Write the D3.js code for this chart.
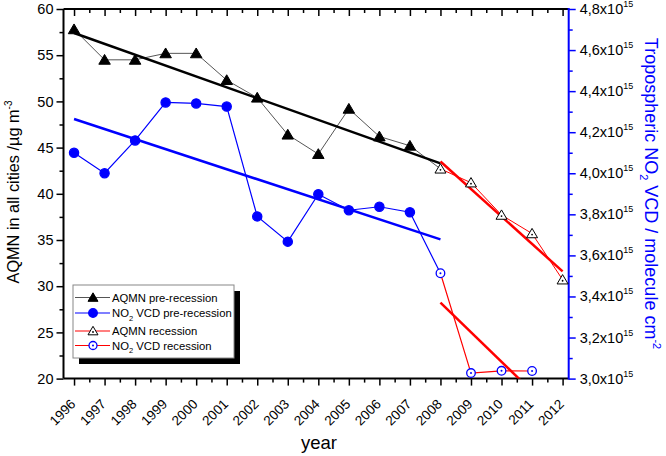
<!DOCTYPE html>
<html>
<head>
<meta charset="utf-8">
<script src="https://cdn.jsdelivr.net/npm/d3@7"></script>
<style>
  html, body { margin: 0; padding: 0; background: #fff; }
  svg { display: block; }
  svg text { font-family: "Liberation Sans", Arial, sans-serif; }
</style>
</head>
<body>
<svg id="chart" width="666" height="456"></svg>
<script>
// ---------- data ----------
const years = [1996,1997,1998,1999,2000,2001,2002,2003,2004,2005,2006,2007,2008,2009,2010,2011,2012];
const aqmnPreYears = [1996,1997,1998,1999,2000,2001,2002,2003,2004,2005,2006,2007,2008];
const aqmnPre = [57.8,54.5,54.5,55.2,55.2,52.3,50.4,46.4,44.3,49.2,46.2,45.2,42.7];
const aqmnRecYears = [2008,2009,2010,2011,2012];
const aqmnRec = [42.7,41.2,37.7,35.7,30.7];
const no2PreYears = [1996,1997,1998,1999,2000,2001,2002,2003,2004,2005,2006,2007,2008];
const no2Pre = [4.10e15,4.00e15,4.16e15,4.345e15,4.34e15,4.325e15,3.79e15,3.667e15,3.898e15,3.82e15,3.837e15,3.81e15,3.513e15];
const no2RecYears = [2008,2009,2010,2011];
const no2Rec = [3.513e15,3.027e15,3.038e15,3.037e15];
// trend lines [year, value]
const aqmnPreTrend = [[1996,57.4],[2008,43.3]];
const aqmnRecTrend = [[2008,43.5],[2012,31.6]];
const no2PreTrend = [[1996,4.264e15],[2008,3.678e15]];
const no2RecTrend = [[2008,3.37e15],[2011,2.938e15]];
const leftTicks = [20,25,30,35,40,45,50,55,60];
const rightTicks = [3.0e15,3.2e15,3.4e15,3.6e15,3.8e15,4.0e15,4.2e15,4.4e15,4.6e15,4.8e15];
const legendItems = [
  {name:"AQMN pre-recession", sub:null, line:"#555555", marker:"tri", fill:"#000000", stroke:"#000000", open:false},
  {name:" VCD pre-recession", sub:"NO", line:"#0000ff", marker:"circ", fill:"#0000ff", stroke:"#0000ff", open:false},
  {name:"AQMN recession", sub:null, line:"#ff0000", marker:"tri", fill:"#ffffff", stroke:"#000000", open:true},
  {name:" VCD recession", sub:"NO", line:"#ff0000", marker:"circ", fill:"#ffffff", stroke:"#0000ff", open:true}
];

// ---------- layout ----------
const L = 63.5, R = 568.7, T = 9, B = 378.6;
const svg = d3.select("#chart");
const x = d3.scaleLinear().domain([1995.655, 2012.2]).range([L, R]);
const yL = d3.scaleLinear().domain([20, 60]).range([B, T]);
const yR = d3.scaleLinear().domain([3.0e15, 4.8e15]).range([B, T]);

svg.append("defs").append("clipPath").attr("id","clip")
  .append("rect").attr("x",L).attr("y",T).attr("width",R-L).attr("height",B-T);

const blue = "#0000ff", red = "#ff0000";
const FF = "Liberation Sans, Arial, sans-serif";

// ---------- legend background (drawn first, below marks) ----------
const lgX = 73, lgY = 285, lgW = 161, lgH = 73, sh = 6;
const lgBack = svg.append("g").attr("class","legend-back");
lgBack.append("polyline")
  .attr("points", `${lgX+lgW+3},${lgY+sh} ${lgX+lgW+3},${lgY+lgH+3} ${lgX+sh},${lgY+lgH+3}`)
  .attr("fill","none").attr("stroke","#000000").attr("stroke-width",sh).attr("stroke-linejoin","miter");
lgBack.append("rect").attr("x",lgX).attr("y",lgY).attr("width",lgW).attr("height",lgH)
  .attr("fill","#ffffff").attr("stroke","#888888").attr("stroke-width",1);

// ---------- axes ----------
const halfYears = d3.range(1996, 2012.01, 0.5).filter(v => !Number.isInteger(v));
const gB = svg.append("g").attr("transform",`translate(0,${B})`)
  .call(d3.axisBottom(x).tickValues(years).tickSize(7).tickFormat(""));
gB.append("g").call(d3.axisBottom(x).tickValues(halfYears).tickSize(4).tickFormat(""));
const gT = svg.append("g").attr("transform",`translate(0,${T})`)
  .call(d3.axisBottom(x).tickValues(years).tickSize(7).tickFormat(""));
gT.append("g").call(d3.axisBottom(x).tickValues(halfYears).tickSize(4).tickFormat(""));
[gB, gT].forEach(g => {
  g.selectAll(".domain").remove();
  g.selectAll("line").attr("stroke","#000").attr("stroke-width",1.5);
});
const gL = svg.append("g").attr("transform",`translate(${L},0)`)
  .call(d3.axisLeft(yL).tickValues(leftTicks).tickSize(7).tickPadding(3));
gL.append("g").call(d3.axisLeft(yL).tickValues(d3.range(22.5, 60, 5)).tickSize(4).tickFormat(""));
gL.attr("font-family", FF).attr("font-size", 14.5);
gL.selectAll(".domain").remove();
gL.selectAll("line").attr("stroke","#000").attr("stroke-width",1.5);
gL.selectAll("text").attr("fill","#000");
const gR = svg.append("g").attr("transform",`translate(${R},0)`)
  .call(d3.axisRight(yR).tickValues(rightTicks).tickSize(7).tickFormat(""));
gR.append("g").call(d3.axisRight(yR).tickValues(d3.range(3.1e15, 4.8e15, 0.2e15)).tickSize(4).tickFormat(""));
gR.selectAll(".domain").remove();
gR.selectAll("line").attr("stroke",blue).attr("stroke-width",1.5);
rightTicks.forEach(v => {
  const t = svg.append("text").attr("x", R + 11).attr("y", yR(v) + 5)
    .attr("font-size",14.5).attr("fill","#000");
  t.append("tspan").text((v/1e15).toFixed(1).replace(".", ",") + "x10");
  t.append("tspan").attr("font-size",9).attr("dy","-7px").text("15");
});
// frame lines
svg.append("line").attr("x1",L).attr("x2",R).attr("y1",T).attr("y2",T).attr("stroke","#000").attr("stroke-width",2);
svg.append("line").attr("x1",L).attr("x2",R).attr("y1",B).attr("y2",B).attr("stroke","#000").attr("stroke-width",2);
svg.append("line").attr("x1",L).attr("x2",L).attr("y1",T).attr("y2",B).attr("stroke","#000").attr("stroke-width",2);
svg.append("line").attr("x1",R).attr("x2",R).attr("y1",T-1).attr("y2",B+1).attr("stroke",blue).attr("stroke-width",2);

// x tick labels rotated
years.forEach(yr => {
  svg.append("text")
    .attr("transform",`translate(${x(yr)-1},${B+23}) rotate(-45)`)
    .attr("text-anchor","end").attr("dy","0.35em")
    .attr("font-size",13.5).attr("fill","#000").text(yr);
});
// axis titles
svg.append("text").attr("x",319).attr("y",449).attr("text-anchor","middle")
  .attr("font-size",18.5).attr("fill","#000").text("year");
const lt = svg.append("text").attr("transform","translate(19,192) rotate(-90)")
  .attr("text-anchor","middle").attr("font-size",16.3).attr("fill","#000");
lt.append("tspan").text("AQMN in all cities /µg m");
lt.append("tspan").attr("font-size",10).attr("dy","-7px").text("-3");
const rt = svg.append("text").attr("transform","translate(645,193.5) rotate(90)")
  .attr("text-anchor","middle").attr("font-size",18).attr("fill",blue);
rt.append("tspan").text("Tropospheric NO");
rt.append("tspan").attr("font-size",11).attr("dy","5px").text("2");
rt.append("tspan").attr("dy","-5px").text(" VCD / molecule cm");
rt.append("tspan").attr("font-size",11).attr("dy","-8px").text("-2");

// ---------- marks ----------
const plot = svg.append("g").attr("clip-path","url(#clip)");
const lineL = d3.line().x(d => x(d[0])).y(d => yL(d[1]));
const lineR = d3.line().x(d => x(d[0])).y(d => yR(d[1]));
const zip = (a,b) => a.map((v,i) => [v,b[i]]);

plot.append("path").attr("d", lineL(zip(aqmnPreYears, aqmnPre))).attr("fill","none").attr("stroke","#555").attr("stroke-width",1);
plot.append("path").attr("d", lineR(zip(no2PreYears, no2Pre))).attr("fill","none").attr("stroke",blue).attr("stroke-width",1.2);
plot.append("path").attr("d", lineL(zip(aqmnRecYears, aqmnRec))).attr("fill","none").attr("stroke",red).attr("stroke-width",1);
plot.append("path").attr("d", lineR(zip(no2RecYears, no2Rec))).attr("fill","none").attr("stroke",red).attr("stroke-width",1.2);
plot.append("path").attr("d", lineL(aqmnPreTrend)).attr("fill","none").attr("stroke","#000").attr("stroke-width",2.5);
plot.append("path").attr("d", lineR(no2PreTrend)).attr("fill","none").attr("stroke",blue).attr("stroke-width",2.5);
plot.append("path").attr("d", lineL(aqmnRecTrend)).attr("fill","none").attr("stroke",red).attr("stroke-width",2.5);
plot.append("path").attr("d", lineR(no2RecTrend)).attr("fill","none").attr("stroke",red).attr("stroke-width",2.5);

function tri(g, cx, cy, fill, stroke, w, dot) {
  const h = w * 0.85;
  g.append("path").attr("transform",`translate(${cx},${cy})`)
    .attr("d", `M0,${-h*0.55}L${w/2},${h*0.45}L${-w/2},${h*0.45}Z`)
    .style("fill",fill).style("stroke",stroke).style("stroke-width",1);
  if (dot) g.append("circle").attr("cx",cx).attr("cy",cy+1).attr("r",0.9).style("fill",stroke);
}
function circ(g, cx, cy, fill, stroke, r, dot) {
  g.append("circle").attr("cx",cx).attr("cy",cy).attr("r",r)
    .style("fill",fill).style("stroke",stroke).style("stroke-width",1.3);
  if (dot) g.append("circle").attr("cx",cx).attr("cy",cy).attr("r",1).style("fill",stroke);
}
const mk = svg.append("g");
aqmnPreYears.slice(0,-1).forEach((yr,i) => tri(mk, x(yr), yL(aqmnPre[i]), "#000000", "#000000", 11.5, false));
no2PreYears.slice(0,-1).forEach((yr,i) => circ(mk, x(yr), yR(no2Pre[i]), blue, blue, 4.6, false));
aqmnRecYears.forEach((yr,i) => tri(mk, x(yr), yL(aqmnRec[i]), "#ffffff", "#000000", 11, true));
no2RecYears.forEach((yr,i) => circ(mk, x(yr), yR(no2Rec[i]), "#ffffff", blue, 4.3, true));

// ---------- legend entries ----------
const lg = svg.append("g").attr("class","legend");
const rowsY = [297.5, 313, 331, 345.5];
legendItems.forEach((it, i) => {
  const cy = rowsY[i];
  lg.append("line").attr("x1",75).attr("x2",110).attr("y1",cy).attr("y2",cy)
    .style("stroke",it.line).style("stroke-width",1.2);
  if (it.marker === "tri") tri(lg, 93, cy, it.fill, it.stroke, 10, it.open);
  else circ(lg, 93, cy, it.fill, it.stroke, it.open ? 4 : 4.3, it.open);
  const t = lg.append("text").attr("x",112).attr("y",cy + 4).attr("font-size",11.3).style("fill","#000000");
  if (it.sub) {
    t.append("tspan").text(it.sub);
    t.append("tspan").attr("font-size",7.5).attr("dy","3.5px").text("2");
    t.append("tspan").attr("dy","-3.5px").text(it.name);
  } else {
    t.text(it.name);
  }
});
</script>
</body>
</html>
